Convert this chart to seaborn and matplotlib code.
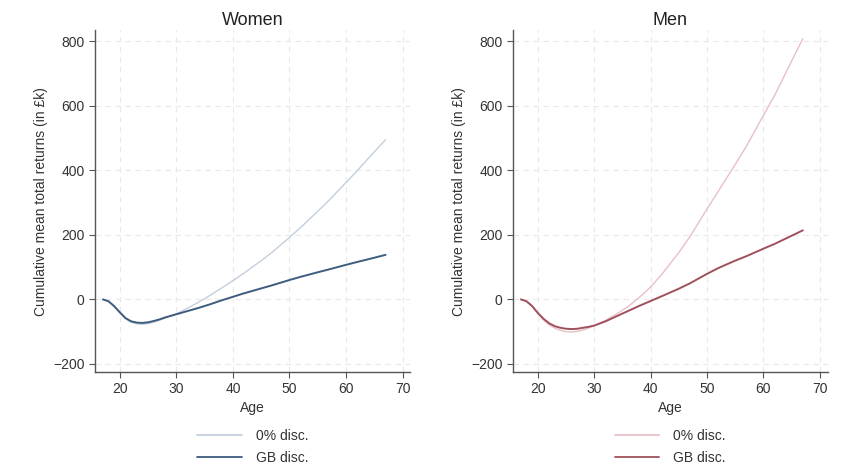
import matplotlib
matplotlib.use("Agg")
import pandas as pd
import matplotlib.pyplot as plt
import seaborn as sns

ages = [17, 18, 19, 20, 21, 22, 23, 24, 25, 26, 27, 28, 29, 30,
        32, 34, 36, 38, 40, 42, 45, 47, 50, 52, 55, 57, 60, 62, 65, 67]

# cumulative mean total returns (in £k)
women_0 = [0, -6, -22, -42, -60, -71, -76, -77, -75, -71, -65, -58, -52, -45,
           -27, -8, 13, 35, 58, 82, 120, 147, 192, 223, 273, 307, 362, 399, 457, 495]
women_gb = [0, -6, -21, -40, -58, -68, -72, -73, -71, -67, -62, -56, -51, -46,
            -36, -26, -15, -3, 8, 19, 34, 44, 60, 70, 84, 93, 107, 116, 129, 138]
men_0 = [0, -6, -22, -44, -64, -79, -89, -96, -100, -101, -99, -95, -89, -82,
         -65, -45, -22, 6, 38, 78, 145, 195, 280, 335, 418, 475, 570, 632, 738, 808]
men_gb = [0, -6, -21, -42, -60, -74, -83, -88, -91, -92, -91, -88, -85, -81,
          -68, -52, -36, -20, -5, 10, 33, 50, 79, 97, 120, 134, 157, 172, 197, 214]

series_labels = ["0% disc.", "GB disc."]


def make_frame(v0, vgb):
    return pd.DataFrame({
        "age": ages * 2,
        "value": v0 + vgb,
        "series": [series_labels[0]] * len(ages) + [series_labels[1]] * len(ages),
    })


sns.set_style("white")
plt.rcParams["font.family"] = ["Liberation Sans", "DejaVu Sans"]

fig = plt.figure(figsize=(8.48, 4.65), dpi=100)
ax_w = fig.add_axes([0.112, 0.2, 0.372, 0.735])
ax_m = fig.add_axes([0.605, 0.2, 0.371, 0.735])

panels = [
    (ax_w, "Women", make_frame(women_0, women_gb), ["#c3cfdc", "#3e5c7e"]),
    (ax_m, "Men", make_frame(men_0, men_gb), ["#e8c0c7", "#a0505c"]),
]

for ax, title, df, cols in panels:
    sns.lineplot(data=df, x="age", y="value", hue="series", palette=cols,
                 ax=ax, linewidth=1.3, hue_order=series_labels)
    for line, lw in zip(ax.get_lines(), [1.0, 1.4]):
        line.set_linewidth(lw)
    ax.set_xlim(15.6, 71.4)
    ax.set_ylim(-225, 834)
    ax.set_xticks([20, 30, 40, 50, 60, 70])
    ax.set_yticks([-200, 0, 200, 400, 600, 800])
    ax.grid(True, color="#e9e9e9", linestyle=(0, (5, 4)), linewidth=0.8)
    ax.set_axisbelow(True)
    for s in ["top", "right"]:
        ax.spines[s].set_visible(False)
    for s in ["left", "bottom"]:
        ax.spines[s].set_color("#555555")
        ax.spines[s].set_linewidth(1.0)
    ax.tick_params(axis="both", direction="out", length=4, width=0.8,
                   color="#555555", labelsize=10, labelcolor="#333333",
                   left=True, bottom=True)
    ax.set_title(title, fontsize=13, color="#222222", pad=4)
    ax.set_xlabel("Age", fontsize=10, color="#333333", labelpad=3)
    ax.set_ylabel("Cumulative mean total returns (in £k)", fontsize=10,
                  color="#333333", labelpad=4)
    leg = ax.legend(loc="upper center", bbox_to_anchor=(0.5, -0.13), frameon=False,
                    fontsize=10, handlelength=3.2, labelspacing=0.55,
                    handletextpad=1.0)
    for t in leg.get_texts():
        t.set_color("#333333")

fig.savefig("out.png", dpi=100)
